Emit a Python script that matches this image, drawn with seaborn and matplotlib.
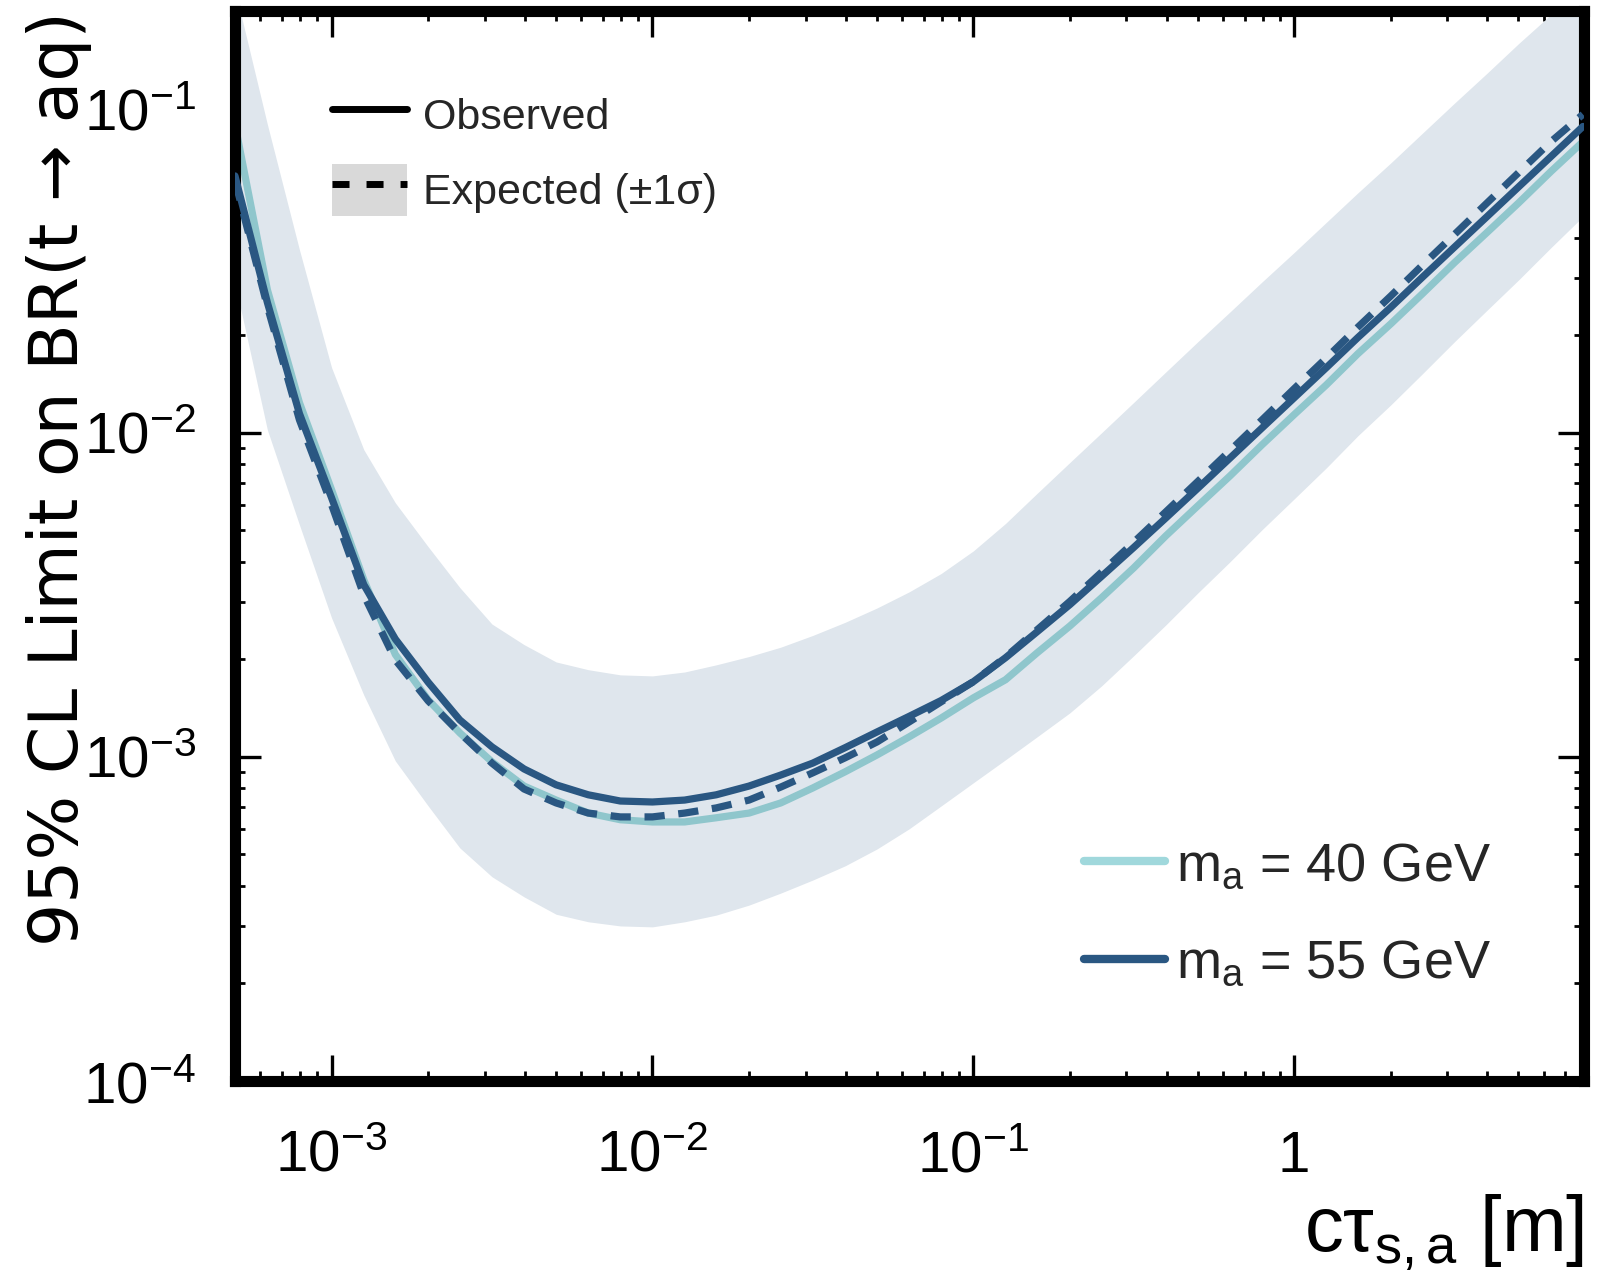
import numpy as np
import pandas as pd
import matplotlib
matplotlib.use("Agg")
import matplotlib.pyplot as plt
import seaborn as sns
from matplotlib.lines import Line2D
from matplotlib.patches import Patch
from matplotlib.ticker import LogLocator, NullFormatter

# ---------------- data ----------------
ctau = [5.0e-4, 6.31e-4, 7.94e-4, 1.0e-3, 1.26e-3, 1.58e-3, 2.0e-3, 2.51e-3, 3.16e-3,
        3.98e-3, 5.01e-3, 6.31e-3, 7.94e-3, 1.0e-2, 1.26e-2, 1.58e-2, 2.0e-2, 2.51e-2,
        3.16e-2, 3.98e-2, 5.01e-2, 6.31e-2, 7.94e-2, 0.1, 0.126, 0.158, 0.2, 0.251,
        0.316, 0.398, 0.501, 0.631, 0.794, 1.0, 1.26, 1.58, 2.0, 2.51, 3.16, 3.98,
        5.01, 6.31, 7.94]

obs_40 = [0.0893, 0.0276, 0.01239, 0.00667, 0.00352, 0.00207, 0.00150, 0.001186,
          0.000966, 0.000813, 0.000736, 0.000671, 0.000640, 0.000630, 0.000630,
          0.000649, 0.000671, 0.000721, 0.000802, 0.000899, 0.001014, 0.001153,
          0.001318, 0.001521, 0.001730, 0.002094, 0.002535, 0.003097, 0.003828,
          0.004808, 0.005953, 0.007362, 0.009183, 0.01138, 0.01406, 0.01754,
          0.02168, 0.02685, 0.03350, 0.04140, 0.05124, 0.06397, 0.07907]

obs_55 = [0.0620, 0.0252, 0.01146, 0.00630, 0.00340, 0.00231, 0.00170, 0.00130,
          0.001074, 0.000918, 0.000820, 0.000764, 0.000731, 0.000726, 0.000736,
          0.000764, 0.000813, 0.000879, 0.000957, 0.001067, 0.001194, 0.001334,
          0.001493, 0.001706, 0.002023, 0.002432, 0.002951, 0.003606, 0.004426,
          0.005458, 0.006745, 0.008356, 0.01035, 0.01282, 0.01589, 0.01968,
          0.02438, 0.03020, 0.03741, 0.04634, 0.05741, 0.07112, 0.08810]

exp_55 = [0.0600, 0.0245, 0.01096, 0.00600, 0.00316, 0.001991, 0.001489, 0.001186,
          0.000957, 0.000796, 0.000721, 0.000671, 0.000653, 0.000653, 0.000671,
          0.000696, 0.000736, 0.000807, 0.000893, 0.000993, 0.001112, 0.001282,
          0.001479, 0.001706, 0.002032, 0.002466, 0.003020, 0.003715, 0.004592,
          0.005702, 0.007079, 0.008810, 0.01096, 0.01368, 0.01702, 0.02118,
          0.02642, 0.03289, 0.04093, 0.05105, 0.06353, 0.07907, 0.09600]

exp_hi = [0.233, 0.0893, 0.0367, 0.01589, 0.00887, 0.00608, 0.00445, 0.00333,
          0.00257, 0.00222, 0.001963, 0.001858, 0.001791, 0.001778, 0.001828,
          0.001923, 0.002040, 0.002180, 0.002370, 0.002600, 0.002880, 0.003230,
          0.003680, 0.00432, 0.00525, 0.00650, 0.00810, 0.01000, 0.01240, 0.01540,
          0.01910, 0.02360, 0.02920, 0.03600, 0.04460, 0.05500, 0.06800, 0.08400,
          0.1040, 0.1283, 0.1589, 0.1950, 0.2415]

exp_lo = [0.0290, 0.01020, 0.00520, 0.002685, 0.001552, 0.000972, 0.000706,
          0.000524, 0.000427, 0.000370, 0.000327, 0.000310, 0.000301, 0.000299,
          0.000310, 0.000325, 0.000349, 0.000380, 0.000417, 0.000461, 0.000520,
          0.000600, 0.000706, 0.000832, 0.000980, 0.001153, 0.001368, 0.001656,
          0.002051, 0.002553, 0.003206, 0.004000, 0.005023, 0.006252, 0.007798,
          0.009795, 0.01219, 0.01521, 0.01910, 0.02382, 0.02965, 0.03724, 0.04645]

xtick_vals = [1e-3, 1e-2, 1e-1, 1]
xtick_labels = [r"$\mathregular{10^{-3}}$", r"$\mathregular{10^{-2}}$",
                r"$\mathregular{10^{-1}}$", "1"]
ytick_vals = [1e-4, 1e-3, 1e-2, 1e-1]
ytick_labels = [r"$\mathregular{10^{-4}}$", r"$\mathregular{10^{-3}}$",
                r"$\mathregular{10^{-2}}$", r"$\mathregular{10^{-1}}$"]

series_labels = [r"$\mathregular{m_a}$ = 40 GeV", r"$\mathregular{m_a}$ = 55 GeV"]
style_labels = ["Observed", "Expected (\u00b11\u03c3)"]

# ---------------- style ----------------
sns.set_theme(style="ticks")
plt.rcParams["font.family"] = ["Liberation Sans", "DejaVu Sans"]
plt.rcParams["mathtext.fontset"] = "custom"
plt.rcParams["mathtext.rm"] = "Liberation Sans"
plt.rcParams["mathtext.it"] = "Liberation Sans:italic"
plt.rcParams["mathtext.bf"] = "Liberation Sans:bold"
plt.rcParams["mathtext.sf"] = "Liberation Sans"
plt.rcParams["axes.unicode_minus"] = True

LIGHT = "#8fc6cc"
LIGHT_LEG = "#a0d8dc"
DARK = "#2a5782"
BAND = "#dfe6ed"

df = pd.DataFrame({"ctau": ctau, "obs40": obs_40, "obs55": obs_55,
                   "exp55": exp_55, "lo": exp_lo, "hi": exp_hi})

fig = plt.figure(figsize=(16.15, 12.83), dpi=100)
ax = fig.add_axes([0.1455, 0.1574, 0.8353, 0.834])
ax.set_xscale("log")
ax.set_yscale("log")

ax.fill_between(df["ctau"], df["lo"], df["hi"], color=BAND, lw=0, zorder=1)
sns.lineplot(data=df, x="ctau", y="obs40", color=LIGHT, lw=5.2, ax=ax,
             legend=False, sort=False, estimator=None, zorder=2)
sns.lineplot(data=df, x="ctau", y="obs55", color=DARK, lw=5.2, ax=ax,
             legend=False, sort=False, estimator=None, zorder=3)
sns.lineplot(data=df, x="ctau", y="exp55", color=DARK, lw=5.2, ax=ax,
             linestyle=(0, (2.8, 1.9)), legend=False, sort=False,
             estimator=None, zorder=4)

ax.set_xlim(5e-4, 8.0)
ax.set_ylim(1e-4, 0.2)

ax.set_xticks(xtick_vals, labels=xtick_labels)
ax.set_yticks(ytick_vals, labels=ytick_labels)
for axis in (ax.xaxis, ax.yaxis):
    axis.set_minor_locator(LogLocator(base=10, subs=np.arange(2, 10) * 1.0, numticks=100))
    axis.set_minor_formatter(NullFormatter())
ax.tick_params(which="both", direction="in", top=True, right=True, color="black")
ax.tick_params(which="major", length=18.5, width=2.4, labelsize=42,
               labelcolor="black")
ax.tick_params(axis="y", which="major", pad=28)
ax.tick_params(axis="x", which="major", pad=35)
ax.tick_params(which="minor", length=7.2, width=2.0)
for s in ax.spines.values():
    s.set_linewidth(8)
    s.set_color("black")

ax.set_ylabel("95% CL Limit on BR(t \u2192 aq)", fontsize=49, loc="top",
              color="black", family=["DejaVu Sans"])
ax.yaxis.set_label_coords(-0.106, 1.0)
ax.set_xlabel("c\u03c4$_{\\mathregular{s,a}}$ [m]", fontsize=56, loc="right", color="black")
ax.xaxis.set_label_coords(1.0, -0.104)

h_obs = Line2D([], [], color="black", lw=5)
h_exp = (Patch(facecolor="#d9d9d9", edgecolor="none"),
         Line2D([], [], color="black", lw=5, linestyle=(0, (2.45, 2.45))))
leg1 = ax.legend([h_obs, h_exp], style_labels, loc="upper left",
                 bbox_to_anchor=(0.072, 0.927), frameon=False, fontsize=31,
                 handlelength=1.75, handleheight=1.45, handletextpad=0.35,
                 labelspacing=0.56, borderpad=0, borderaxespad=0)
ax.add_artist(leg1)

h40 = Line2D([], [], color=LIGHT_LEG, lw=6)
h55 = Line2D([], [], color=DARK, lw=6)
ax.legend([h40, h55], series_labels, loc="upper left",
          bbox_to_anchor=(0.629, 0.224), frameon=False, fontsize=39,
          handlelength=1.5, handletextpad=0.2, labelspacing=0.88,
          borderpad=0, borderaxespad=0)

fig.savefig("out.png", dpi=100)
